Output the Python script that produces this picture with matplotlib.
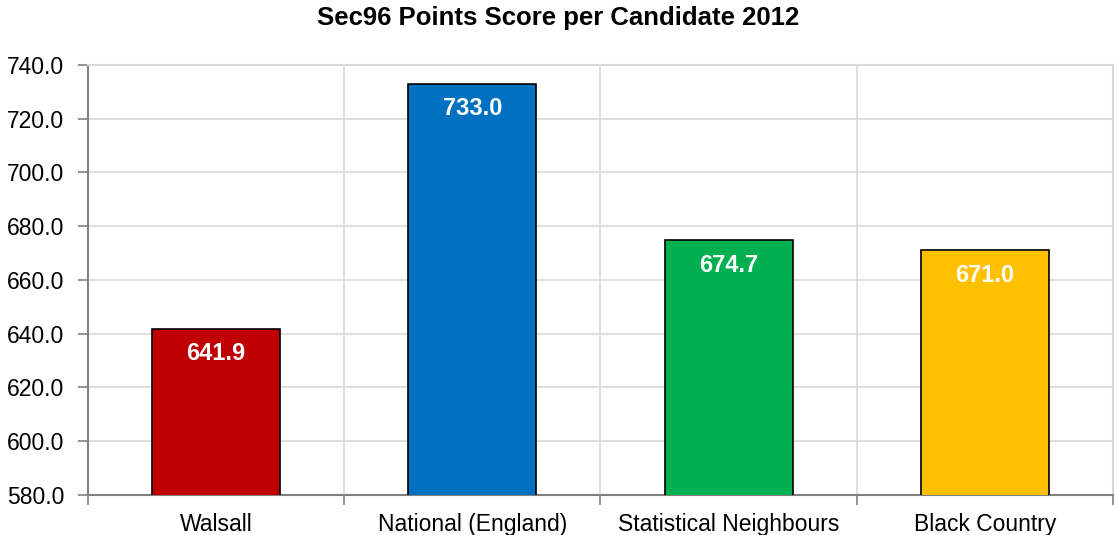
import matplotlib.pyplot as plt
import numpy as np

categories = ["Walsall", "National (England)", "Statistical Neighbours", "Black Country"]
scores = [641.9, 733.0, 674.7, 671.0]
bar_colors = ["#C00000", "#0070C0", "#00B050", "#FFC000"]
y_ticks = [580, 600, 620, 640, 660, 680, 700, 720, 740]

plt.rcParams['font.family'] = ['Liberation Sans', 'DejaVu Sans']

fig = plt.figure(figsize=(11.17, 5.35), dpi=100)
ax = fig.add_axes([0.0788, 0.0748, 0.9176, 0.8037])

x = np.arange(len(categories))
bars = ax.bar(x, scores, width=0.5, color=bar_colors, edgecolor="black", linewidth=1.2, zorder=3)

ax.set_ylim(580, 740)
ax.set_xlim(-0.5, len(categories) - 0.5)
ax.set_yticks(y_ticks)
ax.set_yticklabels([f"{v:.1f}" for v in y_ticks], fontsize=16.5)
ax.set_xticks(x)
ax.set_xticklabels(categories, fontsize=16.5)
ax.set_xticks(np.arange(-0.5, len(categories)), minor=True)

ax.tick_params(axis="x", which="major", length=0, pad=13)
ax.tick_params(axis="x", which="minor", length=7, color="#808080", width=1.2)
ax.tick_params(axis="y", which="major", length=7, color="#808080", width=1.2, pad=10)

ax.grid(axis="y", which="major", color="#D9D9D9", linewidth=1.2, zorder=0)
ax.grid(axis="x", which="minor", color="#D9D9D9", linewidth=1.2, zorder=0)

for side in ["left", "bottom"]:
    ax.spines[side].set_color("#808080")
    ax.spines[side].set_linewidth(1.5)
for side in ["top", "right"]:
    ax.spines[side].set_color("#D9D9D9")
    ax.spines[side].set_linewidth(1.5)

for b, v in zip(bars, scores):
    ax.annotate(f"{v:.1f}", (b.get_x() + b.get_width() / 2, v), xytext=(0, -18),
                textcoords="offset points", ha="center", va="center",
                color="white", fontsize=17, fontweight="bold", zorder=4)

fig.text(0.5, 1 - 18 / 535, "Sec96 Points Score per Candidate 2012", fontsize=18.5,
         fontweight="bold", ha="center", va="center")

fig.savefig("out.png", dpi=100)
